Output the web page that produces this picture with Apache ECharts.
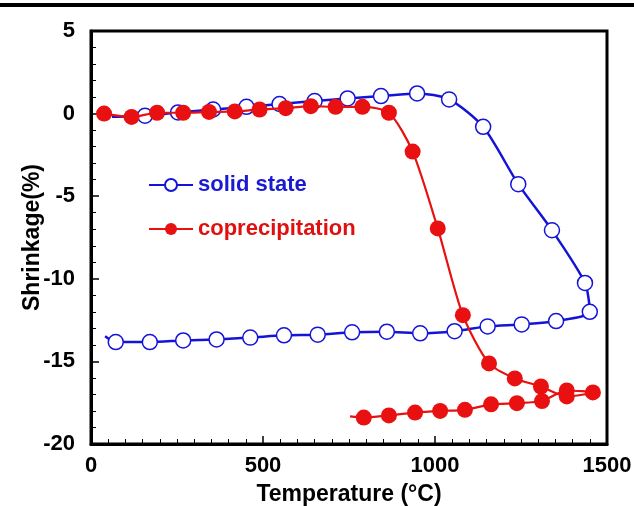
<!DOCTYPE html>
<html>
<head>
<meta charset="utf-8">
<script src="https://cdn.jsdelivr.net/npm/echarts@6/dist/echarts.min.js"></script>
<style>
  html, body { margin: 0; padding: 0; background: #fff; }
  #chart { width: 634px; height: 506px; }
</style>
</head>
<body>
<div id="chart"></div>
<script>
// solid state: heating then cooling (first/last points are line stubs without marker)
var solidT = [61, 157, 253, 355, 452, 548, 650, 746, 843, 948, 1041, 1140, 1242, 1340, 1436, 1450,
              1352, 1252, 1153, 1057, 957, 860, 759, 659, 561, 463, 365, 268, 171, 72, 41];
var solidS = [-0.19, -0.13, 0.07, 0.25, 0.41, 0.58, 0.76, 0.92, 1.06, 1.22, 0.86, -0.8, -4.27, -7.06, -10.25, -12.0,
              -12.56, -12.76, -12.88, -13.17, -13.3, -13.2, -13.24, -13.38, -13.42, -13.56, -13.67, -13.73, -13.83, -13.83, -13.48];

// coprecipitation: heating then cooling (last point is a stub)
var coprecT = [38, 118, 192, 268, 343, 418, 490, 566, 639, 711, 789, 866, 935, 1008, 1081, 1157, 1232, 1308, 1383, 1459,
               1383, 1311, 1238, 1163, 1087, 1015, 942, 866, 793, 753];
var coprecS = [0.0, -0.2, 0.05, 0.05, 0.1, 0.13, 0.25, 0.33, 0.45, 0.41, 0.41, 0.05, -2.3, -6.95, -12.2, -15.12, -16.03, -16.52, -17.12, -16.88,
               -16.76, -17.4, -17.53, -17.6, -17.93, -18.0, -18.1, -18.27, -18.4, -18.33];

var xTicks = [0, 500, 1000, 1500];
var yTicks = [-20, -15, -10, -5, 0, 5];

var FONT = "'Liberation Sans', Arial, sans-serif";

// build point list, stub points get no marker
function buildData(xs, ys, stubs) {
  return xs.map(function (x, i) {
    var item = { value: [x, ys[i]] };
    if (stubs.indexOf(i) >= 0) item.symbol = 'none';
    return item;
  });
}

var chart = echarts.init(document.getElementById('chart'));

var option = {
  backgroundColor: '#fff',
  animation: false,
  grid: {
    left: 91, right: 27, top: 31, bottom: 62,
    outerBoundsMode: 'none',
    show: true, borderColor: '#000', borderWidth: 3
  },
  graphic: [
    { type: 'rect', shape: { x: 0, y: 3, width: 634, height: 4 }, style: { fill: '#000' } }
  ],
  legend: {
    orient: 'vertical',
    left: 143,
    top: 168,
    itemWidth: 44,
    itemHeight: 15,
    itemGap: 20,
    textStyle: { fontFamily: FONT, fontSize: 22, fontWeight: 'bold', lineHeight: 24 },
    data: [
      { name: 'solid state', textStyle: { color: '#1a1ad0' } },
      { name: 'coprecipitation', textStyle: { color: '#e01010' } }
    ]
  },
  xAxis: {
    type: 'value',
    min: xTicks[0], max: xTicks[xTicks.length - 1], interval: 500,
    name: 'Temperature (°C)',
    nameLocation: 'middle',
    nameGap: 39,
    nameMoveOverlap: false,
    nameTextStyle: { fontFamily: FONT, fontSize: 23, fontWeight: 'bold', color: '#000' },
    axisLine: { show: true, onZero: false, lineStyle: { color: '#000', width: 3 } },
    axisTick: { show: true, inside: true, length: 8, lineStyle: { color: '#000', width: 1.5 } },
    minorTick: { show: true, splitNumber: 10, length: 5, lineStyle: { color: '#000', width: 1 } },
    axisLabel: { fontFamily: FONT, fontSize: 22, fontWeight: 'bold', color: '#000', margin: 11,
                 formatter: function (v) { return String(v); } },
    splitLine: { show: false }
  },
  yAxis: {
    type: 'value',
    min: yTicks[0], max: yTicks[yTicks.length - 1], interval: 5,
    name: 'Shrinkage(%)',
    nameLocation: 'middle',
    nameGap: 47,
    nameMoveOverlap: false,
    nameTextStyle: { fontFamily: FONT, fontSize: 23, fontWeight: 'bold', color: '#000' },
    axisLine: { show: true, onZero: false, lineStyle: { color: '#000', width: 3 } },
    axisTick: { show: true, inside: true, length: 8, lineStyle: { color: '#000', width: 1.5 } },
    minorTick: { show: true, splitNumber: 5, length: 5, lineStyle: { color: '#000', width: 1 } },
    axisLabel: { fontFamily: FONT, fontSize: 22, fontWeight: 'bold', color: '#000', margin: 16 },
    splitLine: { show: false }
  },
  series: [
    {
      name: 'solid state',
      type: 'line',
      smooth: 0.25,
      data: buildData(solidT, solidS, [0, solidT.length - 1]),
      symbol: 'circle',
      symbolSize: 15,
      lineStyle: { color: '#1414d8', width: 2.5 },
      itemStyle: { color: '#ffffff', borderColor: '#1414d8', borderWidth: 1.5 },
      z: 2
    },
    {
      name: 'coprecipitation',
      type: 'line',
      smooth: 0.25,
      data: buildData(coprecT, coprecS, [coprecT.length - 1]),
      symbol: 'circle',
      symbolSize: 16,
      lineStyle: { color: '#e81010', width: 2.2 },
      itemStyle: { color: '#e81010', borderColor: '#e81010', borderWidth: 0 },
      z: 3
    }
  ]
};

chart.setOption(option);
</script>
</body>
</html>
